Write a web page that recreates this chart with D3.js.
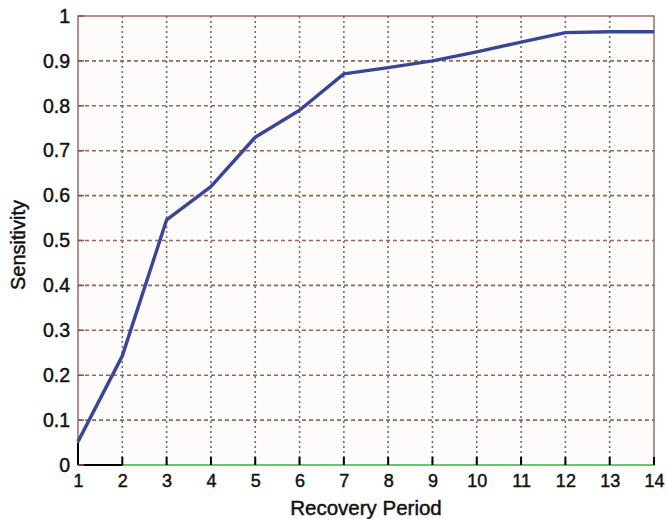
<!doctype html>
<html lang="en">
<head>
	<meta charset="utf-8">
	<title>Sensitivity vs Recovery Period</title>
	<script src="https://cdn.jsdelivr.net/npm/d3@7"></script>
	<style>
		body { margin: 0; background: #fff; }
		text { font-family: "Liberation Sans", Arial, sans-serif; fill: #111; stroke: #111; stroke-width: 0.45px; }
	</style>
</head>
<body>
	<svg id="chart" width="666" height="519"></svg>
	<script>
		// data
		var periods = [1, 2, 3, 4, 5, 6, 7, 8, 9, 10, 11, 12, 13, 14];
		var sensitivity = [0.052, 0.243, 0.546, 0.62, 0.73, 0.79, 0.871, 0.885, 0.9, 0.92, 0.942, 0.963, 0.965, 0.965];
		var zeroPeriods = [2, 14];
		var zeroValues = [0, 0];
		var yTicks = [0, 0.1, 0.2, 0.3, 0.4, 0.5, 0.6, 0.7, 0.8, 0.9, 1];

		var svg = d3.select("#chart");
		var pLeft = 78, pRight = 654, pTop = 16, pBottom = 465;

		var x = d3.scaleLinear().domain([1, 14]).range([pLeft, pRight]);
		var y = d3.scaleLinear().domain([0, 1]).range([pBottom, pTop]);

		// plot background
		svg.append("rect").attr("x", pLeft).attr("y", pTop)
			.attr("width", pRight - pLeft).attr("height", pBottom - pTop)
			.attr("fill", "#fefbfb");

		// vertical grid (grey dotted)
		svg.append("g").selectAll("line").data(periods.slice(1, -1)).enter().append("line")
			.attr("x1", function(d) { return x(d); }).attr("x2", function(d) { return x(d); })
			.attr("y1", pTop).attr("y2", pBottom)
			.attr("stroke", "#6e6e6e").attr("stroke-width", 1.6)
			.attr("stroke-dasharray", "2,3");

		// horizontal grid (brown dashed)
		svg.append("g").selectAll("line").data(yTicks.slice(1, -1)).enter().append("line")
			.attr("x1", pLeft).attr("x2", pRight)
			.attr("y1", function(d) { return y(d); }).attr("y2", function(d) { return y(d); })
			.attr("stroke", "#94685a").attr("stroke-width", 1.6)
			.attr("stroke-dasharray", "4,3");

		// border
		svg.append("rect").attr("x", pLeft).attr("y", pTop)
			.attr("width", pRight - pLeft).attr("height", pBottom - pTop)
			.attr("fill", "none").attr("stroke", "#8a5555").attr("stroke-width", 1.3);

		// zero series (green)
		var zeroLine = d3.line().x(function(d, i) { return x(zeroPeriods[i]); }).y(function(d) { return y(d); });
		svg.append("path").attr("d", zeroLine(zeroValues))
			.attr("fill", "none").attr("stroke", "#6cc46c").attr("stroke-width", 2);

		// bottom axis
		var xAxis = d3.axisBottom(x).tickValues(periods).tickSize(0).tickPadding(9);
		var gx = svg.append("g").attr("transform", "translate(0," + pBottom + ")").call(xAxis);
		gx.select(".domain").remove();
		gx.selectAll("text").attr("font-size", 18).attr("fill", "#111");
		// black tick marks on bottom edge
		svg.append("g").selectAll("line").data(periods).enter().append("line")
			.attr("x1", function(d) { return x(d); }).attr("x2", function(d) { return x(d); })
			.attr("y1", pBottom).attr("y2", pBottom - 8)
			.attr("stroke", "#000").attr("stroke-width", 2);
		svg.append("line").attr("x1", x(1)).attr("x2", x(2)).attr("y1", pBottom).attr("y2", pBottom)
			.attr("stroke", "#000").attr("stroke-width", 2);
		svg.append("line").attr("x1", x(1)).attr("x2", x(1)).attr("y1", pBottom).attr("y2", y(0.05))
			.attr("stroke", "#000").attr("stroke-width", 2);

		// left axis
		var yAxis = d3.axisLeft(y).tickValues(yTicks).tickSize(0).tickPadding(8)
			.tickFormat(function(d) { return d === 0 ? "0" : d === 1 ? "1" : d3.format(".1f")(d); });
		var gy = svg.append("g").attr("transform", "translate(" + pLeft + ",0)").call(yAxis);
		gy.select(".domain").remove();
		gy.selectAll("text").attr("font-size", 19.5).attr("fill", "#111");
		svg.append("g").selectAll("line").data(yTicks).enter().append("line")
			.attr("x1", pLeft).attr("x2", pLeft + 6)
			.attr("y1", function(d) { return y(d); }).attr("y2", function(d) { return y(d); })
			.attr("stroke", "#8a5555").attr("stroke-width", 1.5);

		// sensitivity line
		var line = d3.line().x(function(d, i) { return x(periods[i]); }).y(function(d) { return y(d); });
		svg.append("path").attr("d", line(sensitivity))
			.attr("fill", "none").attr("stroke", "#3a4595").attr("stroke-width", 3.4)
			.attr("stroke-linejoin", "round");

		// axis titles
		svg.append("text").attr("x", (pLeft + pRight) / 2).attr("y", 515)
			.attr("text-anchor", "middle").attr("font-size", 20.5).text("Recovery Period");
		svg.append("text").attr("transform", "translate(25,245) rotate(-90)")
			.attr("text-anchor", "middle").attr("font-size", 20).text("Sensitivity");
	</script>
</body>
</html>
